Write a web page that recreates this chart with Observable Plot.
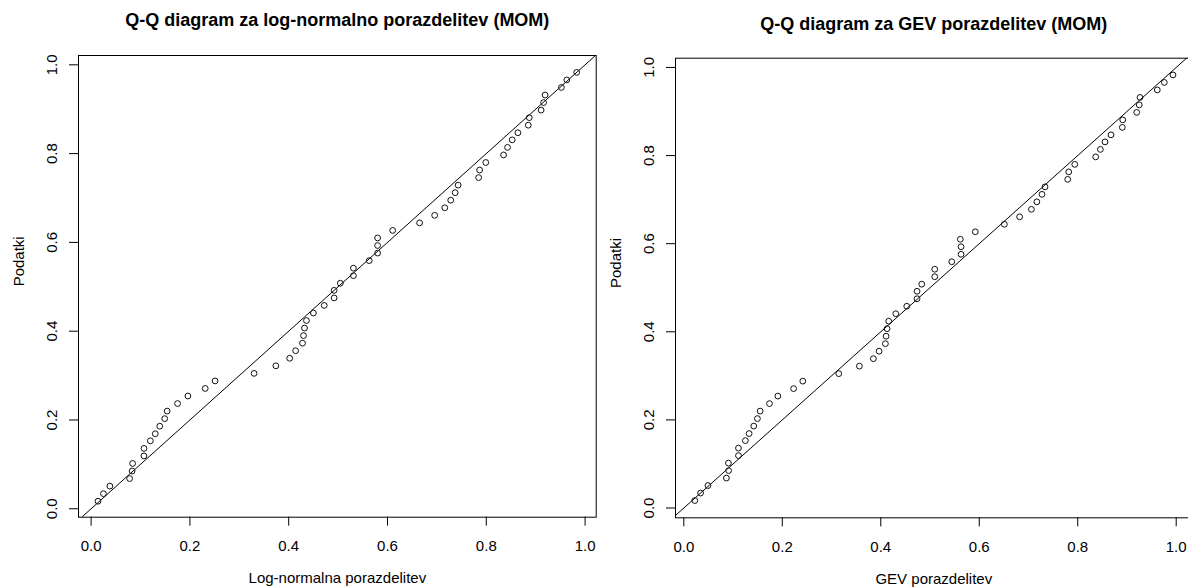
<!DOCTYPE html>
<html>
<head>
<meta charset="utf-8">
<script src="https://cdn.jsdelivr.net/npm/d3@7"></script>
<script src="https://cdn.jsdelivr.net/npm/@observablehq/plot@0.6"></script>
<style>
  html, body { margin: 0; padding: 0; background: #fff; overflow: hidden; }
  #page { position: relative; width: 1188px; height: 587px; overflow: hidden; background: #fff; }
  .panel { position: absolute; top: 0; width: 600px; height: 587px; }
  .panel svg { max-width: none !important; }
</style>
</head>
<body>
<div id="page">
  <div class="panel" id="left" style="left:0px"></div>
  <div class="panel" id="right" style="left:597.4px"></div>
</div>
<script>
// Empirical probabilities ("Podatki"), shared by both panels
const podatki = [0.017, 0.034, 0.051, 0.068, 0.085, 0.102, 0.119, 0.136, 0.153, 0.169,
  0.186, 0.203, 0.220, 0.237, 0.254, 0.271, 0.288, 0.305, 0.322, 0.339,
  0.356, 0.373, 0.390, 0.407, 0.424, 0.441, 0.458, 0.475, 0.492, 0.508,
  0.525, 0.542, 0.559, 0.576, 0.593, 0.610, 0.627, 0.644, 0.661, 0.678,
  0.695, 0.712, 0.729, 0.746, 0.763, 0.780, 0.797, 0.814, 0.831, 0.847,
  0.864, 0.881, 0.898, 0.915, 0.932, 0.949, 0.966, 0.983];

// Theoretical values, log-normal (MOM)
const logNormal = [0.014, 0.025, 0.038, 0.078, 0.083, 0.084, 0.107, 0.107, 0.120, 0.130,
  0.139, 0.149, 0.154, 0.175, 0.196, 0.231, 0.251, 0.330, 0.374, 0.402,
  0.414, 0.428, 0.430, 0.432, 0.436, 0.450, 0.472, 0.492, 0.492, 0.5045,
  0.531, 0.531, 0.563, 0.580, 0.580, 0.580, 0.6105, 0.665, 0.6955, 0.716,
  0.728, 0.737, 0.743, 0.7845, 0.7865, 0.799, 0.835, 0.843, 0.8525, 0.864,
  0.885, 0.887, 0.911, 0.916, 0.919, 0.952, 0.963, 0.983];

// Theoretical values, GEV (MOM)
const gev = [0.0223, 0.034, 0.049, 0.0865, 0.091, 0.0906, 0.111, 0.111, 0.125, 0.1326,
  0.142, 0.1495, 0.155, 0.174, 0.191, 0.223, 0.2416, 0.3147, 0.3566, 0.385,
  0.3966, 0.4094, 0.4108, 0.4128, 0.4162, 0.4305, 0.4528, 0.4737, 0.4737, 0.4832,
  0.5096, 0.5096, 0.5442, 0.563, 0.563, 0.5616, 0.592, 0.651, 0.682, 0.706,
  0.717, 0.7275, 0.7336, 0.7797, 0.7817, 0.794, 0.8365, 0.846, 0.8554, 0.8676,
  0.8906, 0.8914, 0.9198, 0.925, 0.9265, 0.9616, 0.9759, 0.9935];

const xTicks = [0, 0.2, 0.4, 0.6, 0.8, 1.0];
const yTicks = [0, 0.2, 0.4, 0.6, 0.8, 1.0];

const titles = ["Q-Q diagram za log-normalno porazdelitev (MOM)", "Q-Q diagram za GEV porazdelitev (MOM)"];
const xLabels = ["Log-normalna porazdelitev", "GEV porazdelitev"];
const yLabel = "Podatki";

function panel(xs, title, xLabel, cfg) {
  const data = xs.map((x, i) => ({x, y: podatki[i]}));
  const lo = Math.min(cfg.xd[0], cfg.yd[0]);
  const hi = Math.max(cfg.xd[1], cfg.yd[1]);
  const ref = [{v: lo}, {v: hi}];
  const fmt = d => d.toFixed(1);
  return Plot.plot({
    width: 600,
    height: 587,
    marginLeft: 78,
    marginRight: cfg.mr,
    marginTop: cfg.mt,
    marginBottom: cfg.mb,
    x: {domain: cfg.xd, axis: null},
    y: {domain: cfg.yd, axis: null},
    style: {fontFamily: "'Liberation Sans', Arial, sans-serif", fontSize: "15px", color: "#000", background: "transparent", overflow: "visible"},
    marks: [
      Plot.line(ref, {x: "v", y: "v", stroke: "#000", strokeWidth: 1, clip: "frame"}),
      Plot.dot(data, {x: "x", y: "y", r: 2.9, stroke: "#111", strokeWidth: 1, fill: "none"}),
      Plot.frame({stroke: "#000", strokeWidth: 1}),
      Plot.axisX(xTicks, {tickSize: 9, tickPadding: 14.3, tickFormat: fmt, label: null, fontSize: 15, stroke: "#000", fill: "#000"}),
      Plot.axisY(yTicks, {tickSize: 9, tickFormat: () => "", label: null, stroke: "#000"}),
      Plot.text(yTicks, {y: d => d, text: fmt, frameAnchor: "left", dx: -26, rotate: -90, lineAnchor: "middle", textAnchor: "middle", fontSize: 15, fill: "#000"}),
      Plot.text([title], {text: d => d, frameAnchor: "top", dy: cfg.titleDy, lineAnchor: "middle", fontWeight: "bold", fontSize: 18, fill: "#000"}),
      Plot.text([xLabel], {text: d => d, frameAnchor: "bottom", dy: cfg.xlabDy, lineAnchor: "middle", fontSize: 15, fill: "#000"}),
      Plot.text([yLabel], {text: d => d, frameAnchor: "left", dx: -59, rotate: -90, lineAnchor: "middle", fontSize: 15, fill: "#000"})
    ]
  });
}

document.getElementById("left").append(panel(logNormal, titles[0], xLabels[0], {
  xd: [-0.0255, 1.0225], yd: [-0.019, 1.021], mr: 4.3, mt: 55, mb: 70.3, titleDy: -35, xlabDy: 61.3
}));
document.getElementById("right").append(panel(gev, titles[1], xLabels[1], {
  xd: [-0.0169, 1.0323], yd: [-0.0222, 1.021], mr: 5.4, mt: 57.7, mb: 69.7, titleDy: -34.2, xlabDy: 61.7
}));
</script>
</body>
</html>
